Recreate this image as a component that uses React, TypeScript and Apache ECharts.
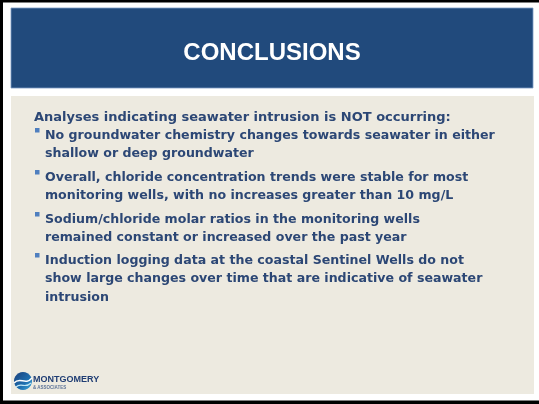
import React, { useEffect, useRef } from "react";
import * as echarts from "echarts";

const title = "CONCLUSIONS";
const intro = "Analyses indicating seawater intrusion is NOT occurring:";
const bullets: string[][] = [
  ["No groundwater chemistry changes towards seawater in either", "shallow or deep groundwater"],
  ["Overall, chloride concentration trends were stable for most", "monitoring wells, with no increases greater than 10 mg/L"],
  ["Sodium/chloride molar ratios in the monitoring wells", "remained constant or increased over the past year"],
  ["Induction logging data at the coastal Sentinel Wells do not", "show large changes over time that are indicative of seawater", "intrusion"],
];
const logoName = "MONTGOMERY";
const logoSub = "& ASSOCIATES";

export default function App() {
  const ref = useRef<HTMLDivElement>(null);
  useEffect(() => {
    if (!ref.current) return;
    const chart = echarts.init(ref.current, null, { renderer: "svg" });
    const textColor = "#2C4775";
    const font = "DejaVu Sans";
    const els: any[] = [];
    // outer frame
    els.push({ type: "rect", shape: { x: 0, y: 0, width: 539, height: 404 }, style: { fill: "#ffffff" } });
    els.push({ type: "rect", shape: { x: 0, y: 0, width: 539, height: 2.5 }, style: { fill: "#000" } });
    els.push({ type: "rect", shape: { x: 0, y: 0, width: 3, height: 404 }, style: { fill: "#000" } });
    els.push({ type: "rect", shape: { x: 0, y: 400.5, width: 539, height: 3.5 }, style: { fill: "#000" } });
    // header
    els.push({ type: "rect", shape: { x: 11, y: 8, width: 522, height: 80 }, style: { fill: "#214A7C", stroke: "#7E9CC4", lineWidth: 0.8 } });
    els.push({
      type: "text", x: 272, y: 51,
      style: { text: title, fill: "#ffffff", font: `bold 24px "Liberation Sans"`, align: "center", verticalAlign: "middle" },
    });
    // body
    els.push({ type: "rect", shape: { x: 11, y: 96, width: 523, height: 298 }, style: { fill: "#EDEAE0" } });
    els.push({
      type: "text", x: 34, y: 116,
      style: { text: intro, fill: textColor, font: `bold 13px "${font}"`, verticalAlign: "middle" },
    });
    const starts = [134, 176, 218, 259];
    const lh = 18.5;
    bullets.forEach((lines, i) => {
      const y0 = starts[i];
      els.push({ type: "rect", shape: { x: 35, y: y0 - 6, width: 4.5, height: 4.5 }, style: { fill: "#4F7FBF" } });
      lines.forEach((ln, j) => {
        els.push({
          type: "text", x: 45, y: y0 + j * lh,
          style: { text: ln, fill: textColor, font: `bold 12.6px "${font}"`, verticalAlign: "middle" },
        });
      });
    });
    // logo
    els.push({
      type: "circle", shape: { cx: 23, cy: 381, r: 9 },
      style: {
        fill: new echarts.graphic.LinearGradient(0, 0, 1, 1, [
          { offset: 0, color: "#1B3F7A" },
          { offset: 0.6, color: "#1E6FB0" },
          { offset: 1, color: "#3FA9D8" },
        ]),
      },
    });
    els.push({ type: "bezierCurve", shape: { x1: 14, y1: 383, x2: 32, y2: 378, cpx1: 20, cpy1: 376, cpx2: 25, cpy2: 386 }, style: { stroke: "#ffffff", lineWidth: 1.6, fill: "none" } });
    els.push({ type: "bezierCurve", shape: { x1: 16, y1: 387, x2: 31, y2: 383, cpx1: 21, cpy1: 382, cpx2: 25, cpy2: 389 }, style: { stroke: "#BFE6F5", lineWidth: 1.2, fill: "none" } });
    els.push({
      type: "text", x: 33, y: 379,
      style: { text: logoName, fill: "#1F3D73", font: `bold 9px "Liberation Sans"`, verticalAlign: "middle" },
    });
    els.push({
      type: "text", x: 33, y: 387.5,
      style: { text: logoSub, fill: "#5C7398", font: `bold 4.5px "Liberation Sans"`, verticalAlign: "middle" },
    });
    chart.setOption({ animation: false, graphic: { elements: els } });
    return () => chart.dispose();
  }, []);
  return <div ref={ref} style={{ position: "fixed", left: 0, top: 0, width: 539, height: 404 }} />;
}
